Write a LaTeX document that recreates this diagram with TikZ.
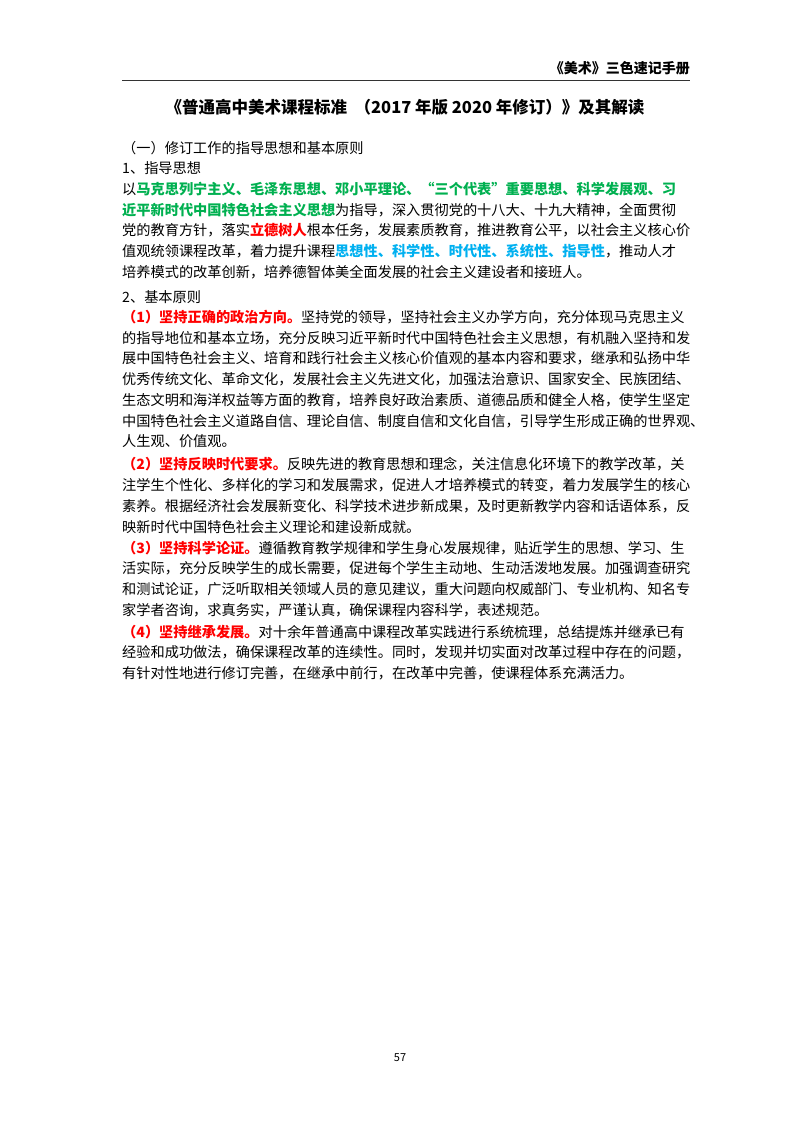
\documentclass[tikz,border=0pt]{standalone}
\usepackage{fontspec}
\setmainfont{Noto Sans CJK SC}
\XeTeXlinebreaklocale "zh"
\XeTeXlinebreakskip=0pt plus 3pt
\definecolor{gr}{RGB}{0,176,80}
\definecolor{rd}{RGB}{255,0,0}
\definecolor{bl}{RGB}{0,176,240}
\newcommand\G[1]{\textcolor{gr}{\bfseries #1}}
\newcommand\R[1]{\textcolor{rd}{\bfseries #1}}
\newcommand\B[1]{\textcolor{bl}{\bfseries #1}}
\newcommand\jl[3]{\node[txt] (#1) at (122,#2) {\makebox[568pt][s]{#3}};}
\newcommand\nl[3]{\node[txt] (#1) at (122,#2) {#3};}
\tikzset{txt/.style={anchor=west,inner sep=0pt,font=\fontsize{14.2pt}{16pt}\selectfont}}
\begin{document}
\begin{tikzpicture}[x=1pt,y=-1pt]
\useasboundingbox (0,0) rectangle (800,1132);
\node[anchor=east,inner sep=0pt,font=\fontsize{14pt}{16pt}\selectfont\bfseries] (hd) at (690,68) {《美术》三色速记手册};
\draw[line width=0.8pt,black!80] (122,80) -- (690,80);
\node[inner sep=0pt,font=\fontsize{16.5pt}{18pt}\selectfont\bfseries] (tt) at (405,107) {《普通高中美术课程标准\ \ （2017 年版 2020 年修订）》及其解读};
\nl{a0}{148}{（一）修订工作的指导思想和基本原则}
\nl{a1}{168}{1、指导思想}
\jl{b1}{189}{以\G{马克思列宁主义、毛泽东思想、邓小平理论、“三个代表”重要思想、科学发展观、习}}
\jl{b2}{210}{\G{近平新时代中国特色社会主义思想}为指导，深入贯彻党的十八大、十九大精神，全面贯彻}
\jl{b3}{230}{党的教育方针，落实\R{立德树人}根本任务，发展素质教育，推进教育公平，以社会主义核心价}
\jl{b4}{251}{值观统领课程改革，着力提升课程\B{思想性、科学性、时代性、系统性、指导性}，推动人才}
\nl{b5}{272}{培养模式的改革创新，培养德智体美全面发展的社会主义建设者和接班人。}
\nl{c0}{297}{2、基本原则}
\jl{c1}{317}{\R{（1）坚持正确的政治方向。}坚持党的领导，坚持社会主义办学方向，充分体现马克思主义}
\jl{c2}{338}{的指导地位和基本立场，充分反映习近平新时代中国特色社会主义思想，有机融入坚持和发}
\jl{c3}{358}{展中国特色社会主义、培育和践行社会主义核心价值观的基本内容和要求，继承和弘扬中华}
\jl{c4}{379}{优秀传统文化、革命文化，发展社会主义先进文化，加强法治意识、国家安全、民族团结、}
\jl{c5}{400}{生态文明和海洋权益等方面的教育，培养良好政治素质、道德品质和健全人格，使学生坚定}
\jl{c6}{421}{中国特色社会主义道路自信、理论自信、制度自信和文化自信，引导学生形成正确的世界观、}
\nl{c7}{441}{人生观、价值观。}
\jl{d1}{464}{\R{（2）坚持反映时代要求。}反映先进的教育思想和理念，关注信息化环境下的教学改革，关}
\jl{d2}{485}{注学生个性化、多样化的学习和发展需求，促进人才培养模式的转变，着力发展学生的核心}
\jl{d3}{506}{素养。根据经济社会发展新变化、科学技术进步新成果，及时更新教学内容和话语体系，反}
\nl{d4}{527}{映新时代中国特色社会主义理论和建设新成就。}
\jl{e1}{548}{\R{（3）坚持科学论证。}遵循教育教学规律和学生身心发展规律，贴近学生的思想、学习、生}
\jl{e2}{568}{活实际，充分反映学生的成长需要，促进每个学生主动地、生动活泼地发展。加强调查研究}
\jl{e3}{589}{和测试论证，广泛听取相关领域人员的意见建议，重大问题向权威部门、专业机构、知名专}
\nl{e4}{610}{家学者咨询，求真务实，严谨认真，确保课程内容科学，表述规范。}
\jl{f1}{632}{\R{（4）坚持继承发展。}对十余年普通高中课程改革实践进行系统梳理，总结提炼并继承已有}
\jl{f2}{652}{经验和成功做法，确保课程改革的连续性。同时，发现并切实面对改革过程中存在的问题，}
\nl{f3}{673}{有针对性地进行修订完善，在继承中前行，在改革中完善，使课程体系充满活力。}
\node[inner sep=0pt,font=\fontsize{11pt}{12pt}\selectfont] (pg) at (400,1058) {57};
\end{tikzpicture}
\end{document}
